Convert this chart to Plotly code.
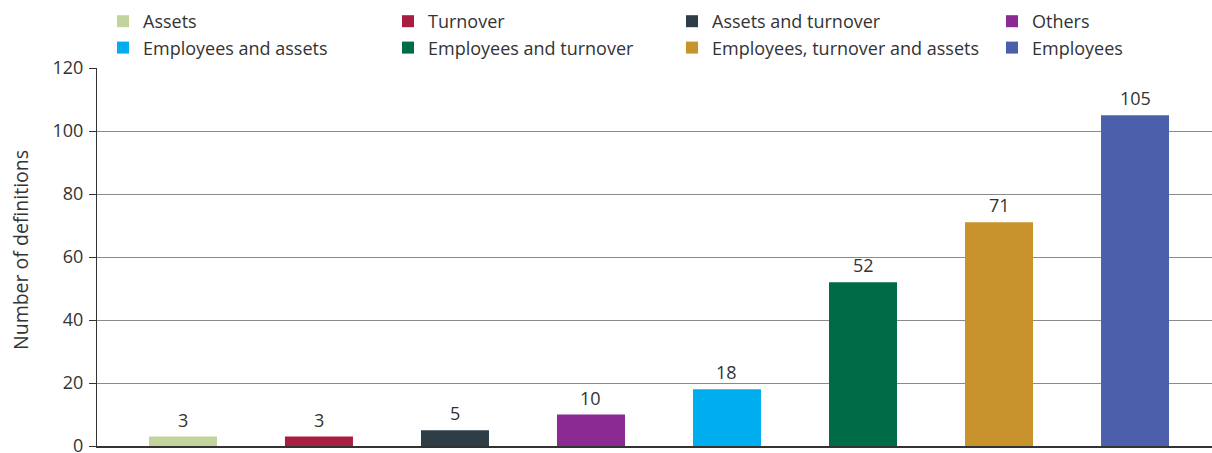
import plotly.graph_objects as go

# Number of size definitions by criterion
categories = [
    "Assets",
    "Turnover",
    "Assets and turnover",
    "Others",
    "Employees and assets",
    "Employees and turnover",
    "Employees, turnover and assets",
    "Employees",
]
counts = [3, 3, 5, 10, 18, 52, 71, 105]
colors = ["#c2d39c", "#a91d3e", "#2f3d47", "#8a2a92",
          "#00aeef", "#006b47", "#c8932d", "#4c5faa"]

# legend column each category belongs to (4 columns, 2 rows)
legend_ids = ["legend", "legend2", "legend3", "legend4",
              "legend", "legend2", "legend3", "legend4"]

FONT = "Open Sans"
TEXT = "#333333"

fig = go.Figure()
for name, val, col, lg in zip(categories, counts, colors, legend_ids):
    fig.add_trace(go.Bar(
        x=[name], y=[val], name=name, marker_color=col,
        marker_line_width=0, legend=lg, showlegend=True,
    ))
    fig.add_annotation(
        x=name, y=val, text=str(val), showarrow=False,
        yanchor="bottom", yshift=3,
        font=dict(family=FONT, size=18, color=TEXT),
    )

legend_common = dict(
    orientation="v", xref="container", yref="container",
    yanchor="top", xanchor="left",
    font=dict(family=FONT, size=18, color=TEXT),
    bgcolor="rgba(0,0,0,0)", borderwidth=0, tracegroupgap=0,
    itemclick=False, itemdoubleclick=False,
)
leg_x = [103, 388, 672, 992]
for i, lg in enumerate(["legend", "legend2", "legend3", "legend4"]):
    fig.update_layout({lg: dict(legend_common, x=leg_x[i] / 1212, y=1 - 3 / 453)})

# rotated axis title
fig.add_annotation(
    text="Number of definitions", textangle=-90, showarrow=False,
    xref="paper", yref="paper", x=(20 - 97) / 1115, y=(446 - 250) / 378,
    xanchor="center", yanchor="middle",
    font=dict(family=FONT, size=19.5, color=TEXT),
)

fig.update_layout(
    template="none",
    width=1212, height=453,
    margin=dict(l=97, r=0, t=68, b=7, autoexpand=False),
    paper_bgcolor="white", plot_bgcolor="white",
    barmode="overlay", bargap=0.5,
    font=dict(family=FONT, size=18, color=TEXT),
    xaxis=dict(
        type="category", range=[-0.632, 7.566],
        showticklabels=False, ticks="", showgrid=False,
        showline=True, linecolor="#333333", linewidth=2,
        zeroline=False, automargin=False, fixedrange=True,
    ),
    yaxis=dict(
        range=[0, 120], dtick=20, tick0=0,
        showgrid=True, gridcolor="#8a8a8a", gridwidth=1,
        showline=True, linecolor="#333333", linewidth=1,
        ticks="outside", ticklen=7, tickcolor="#333333",
        zeroline=False, automargin=False, fixedrange=True,
        ticklabeloverflow="allow", ticklabelstandoff=2,
        tickfont=dict(family=FONT, size=18, color=TEXT),
    ),
)

fig.write_html("out.html", config={"displayModeBar": False})
